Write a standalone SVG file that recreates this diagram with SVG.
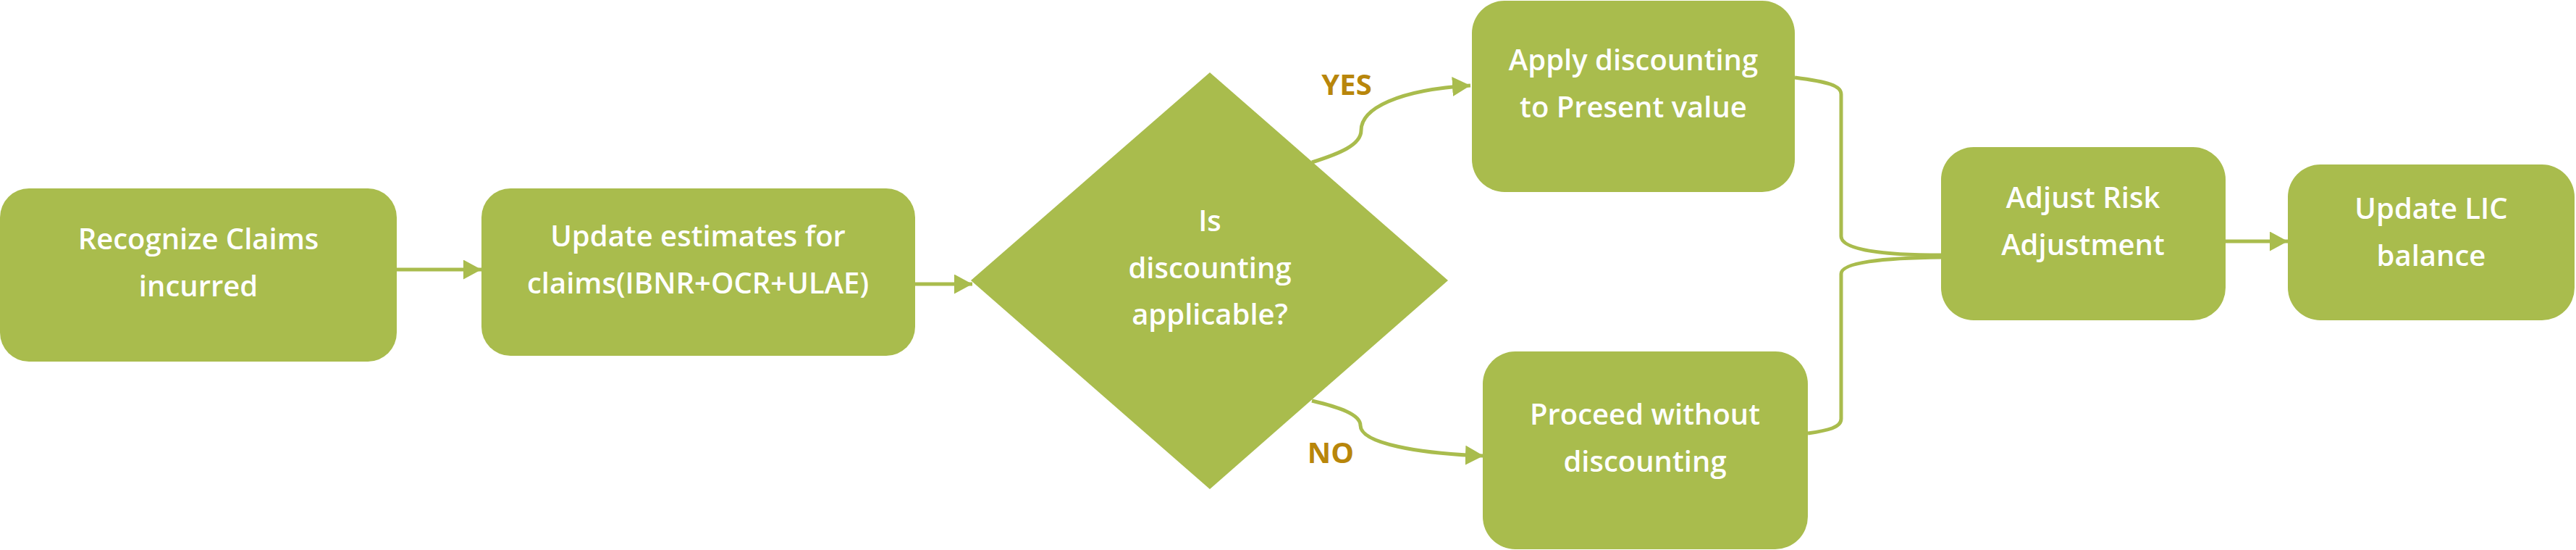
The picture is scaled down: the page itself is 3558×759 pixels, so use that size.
<svg xmlns="http://www.w3.org/2000/svg" width="3558" height="759" viewBox="0 0 3558 759">
<style>
.node{fill:#A9BC4D}
.t{font-family:"Open Sans","Liberation Sans",sans-serif;font-weight:600;font-size:40px;fill:#FFFFFF;text-anchor:middle}
.lbl{font-family:"Open Sans","Liberation Sans",sans-serif;font-weight:700;font-size:40px;fill:#B8860B;text-anchor:middle}
.c{fill:none;stroke:#A9BC4D;stroke-width:5}
.cc{fill:none;stroke:#A9BC4D;stroke-width:5}
</style>
<defs>
<marker id="ah" markerUnits="userSpaceOnUse" markerWidth="28" markerHeight="30" refX="25" refY="13.5" orient="auto">
<path d="M0,0 L25,13.5 L0,27 Z" fill="#A9BC4D"/>
</marker>
</defs>
<rect width="3558" height="759" fill="#FFFFFF"/>
<g id="connectors">
<path class="c" d="M548,372 L665,372" marker-end="url(#ah)"/>
<path class="c" d="M1264,392 L1343,392" marker-end="url(#ah)"/>
<path class="cc" d="M1812,224 C1850,212 1880,200 1880,180 C1880,150 1930,124 2031,118" marker-end="url(#ah)"/>
<path class="cc" d="M1812,553 C1850,562 1879,572 1879,587 C1879,612 1960,626 2049,629" marker-end="url(#ah)"/>
<path class="cc" d="M2479,107 C2525,113 2543,118 2543,130 L2543,326 C2543,345 2600,352 2682,352"/>
<path class="cc" d="M2682,355 C2600,356 2543,362 2543,378 L2543,578 C2543,590 2525,594 2497,598"/>
<path class="c" d="M3074,333 L3160,333" marker-end="url(#ah)"/>
<text class="lbl" x="1860" y="131">YES</text>
<text class="lbl" x="1838" y="639">NO</text>
</g>
<g id="recognize">
<rect class="node" x="0" y="260" width="548" height="239" rx="40" ry="40"/>
<text class="t" x="274" y="344">Recognize Claims</text>
<text class="t" x="274" y="409">incurred</text>
</g>
<g id="update-estimates">
<rect class="node" x="665" y="260" width="599" height="231" rx="40" ry="40"/>
<text class="t" x="964" y="340">Update estimates for</text>
<text class="t" x="964" y="405">claims(IBNR+OCR+ULAE)</text>
</g>
<g id="decision">
<polygon class="node" points="1671,100 2000,387 1671,675 1341,387"/>
<text class="t" x="1671" y="319">Is</text>
<text class="t" x="1671" y="384">discounting</text>
<text class="t" x="1671" y="448">applicable?</text>
</g>
<g id="apply-discounting">
<rect class="node" x="2033" y="1" width="446" height="264" rx="45" ry="45"/>
<text class="t" x="2256" y="97">Apply discounting</text>
<text class="t" x="2256" y="162">to Present value</text>
</g>
<g id="proceed">
<rect class="node" x="2048" y="485" width="449" height="273" rx="45" ry="45"/>
<text class="t" x="2272" y="586">Proceed without</text>
<text class="t" x="2272" y="651">discounting</text>
</g>
<g id="adjust-risk">
<rect class="node" x="2681" y="203" width="393" height="239" rx="45" ry="45"/>
<text class="t" x="2877" y="287">Adjust Risk</text>
<text class="t" x="2877" y="352">Adjustment</text>
</g>
<g id="update-lic">
<rect class="node" x="3160" y="227" width="396" height="215" rx="45" ry="45"/>
<text class="t" x="3358" y="302">Update LIC</text>
<text class="t" x="3358" y="367">balance</text>
</g>
</svg>
